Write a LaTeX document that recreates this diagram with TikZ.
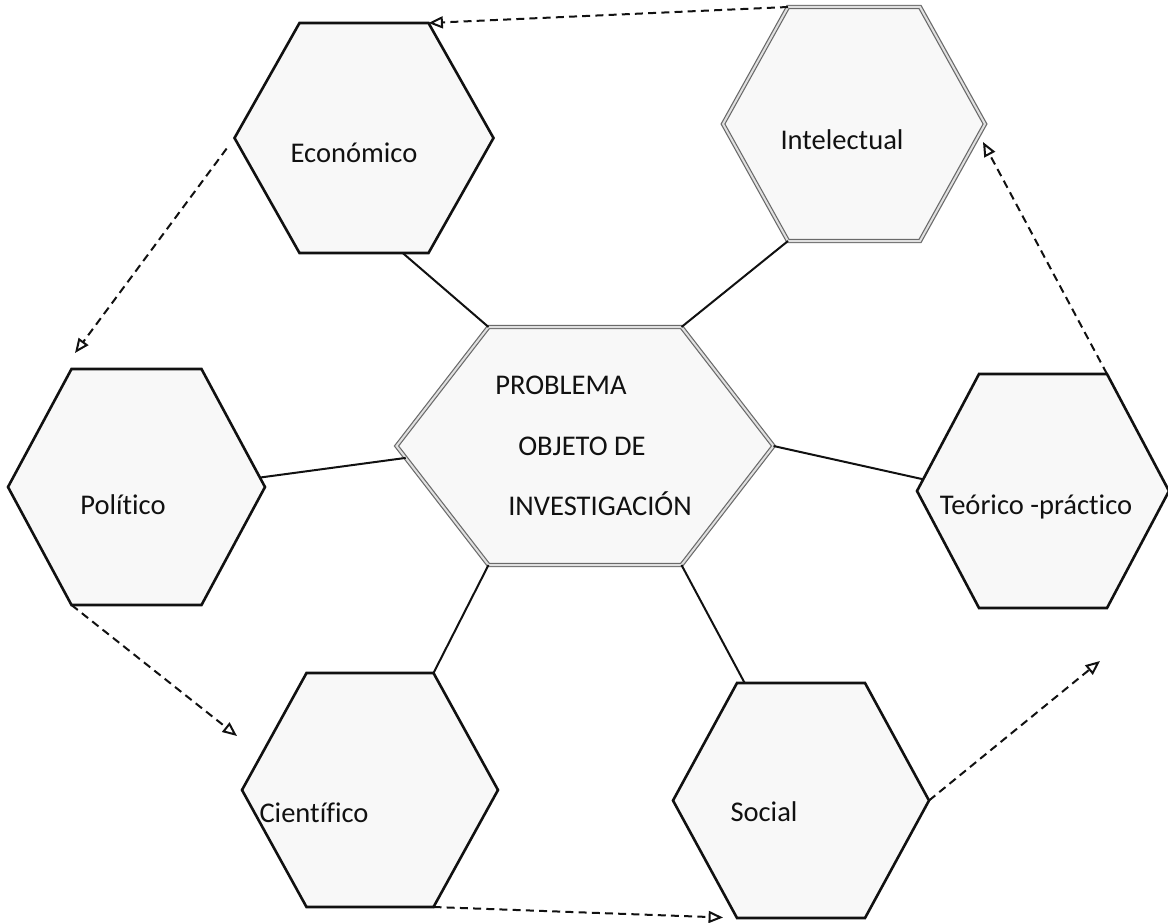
\documentclass[tikz,border=0pt]{standalone}
\usepackage{fontspec}
\setmainfont{Carlito}[Ligatures=NoCommon]
\usetikzlibrary{arrows.meta,calc}
\definecolor{tinta}{HTML}{111111}
\definecolor{relleno}{HTML}{F8F8F8}
\definecolor{borde}{HTML}{6A6A6A}
\newcommand{\rot}{\fontsize{20.3}{24}\selectfont}
\newcommand{\rotprob}{\fontsize{20.3}{43}\selectfont}
\tikzset{hexa/.style={draw=tinta,line width=0.65mm,fill=relleno},
  hexagris/.style={draw=borde,line width=0.3mm,double=black!12,double distance=0.5mm,fill=relleno},
  enlace/.style={tinta,line width=0.5mm},
  flecha/.style={tinta,line width=0.5mm,dash pattern=on 2mm off 1.3mm,
    -{Triangle[open,length=3.6mm,width=3mm]}},
  etiqueta/.style={inner sep=0,text=tinta,font=\rot}}
% hexagono: estilo, nombre, cx, cy, media anchura, media altura, medio lado superior
\newcommand{\hexagono}[7][hexa]{%
  \coordinate (#2) at (#3,#4);
  \coordinate (#2-tl) at ($(#2)+(-#7,-#6)$);
  \coordinate (#2-tr) at ($(#2)+(#7,-#6)$);
  \coordinate (#2-r) at ($(#2)+(#5,0)$);
  \coordinate (#2-br) at ($(#2)+(#7,#6)$);
  \coordinate (#2-bl) at ($(#2)+(-#7,#6)$);
  \coordinate (#2-l) at ($(#2)+(-#5,0)$);
  \draw[#1] (#2-tl) -- (#2-tr) -- (#2-r) -- (#2-br) -- (#2-bl) -- (#2-l) -- cycle;}

\begin{document}
\begin{tikzpicture}[x=0.25mm,y=-0.25mm]
\useasboundingbox (0,0) rectangle (1168,923);
\hexagono{econ}{364}{138}{129.5}{115}{64.5}
\hexagono[hexagris]{intel}{854}{124}{131}{117}{66}
\hexagono[hexagris]{prob}{585}{446}{188.5}{119}{96.5}
\hexagono{pol}{136.5}{487}{128.5}{118}{65}
\hexagono{teo}{1043}{491}{126}{117}{64}
\hexagono{cien}{370}{790}{128}{117}{63.5}
\hexagono{soc}{801}{800.5}{128}{117.5}{64}
\node[etiqueta] (econ-t) at (354,153) {Económico};
\node[etiqueta] (intel-t) at (842,140) {Intelectual};
\node[etiqueta] (pol-t) at (123,505) {Político};
\node[etiqueta] (teo-t) at (1036,507) {Teórico -práctico};
\node[etiqueta] (cien-t) at (314,813) {Científico};
\node[etiqueta] (soc-t) at (764,812) {Social};
\node[etiqueta,font=\rotprob,align=left,anchor=north west] (prob-t) at (495,376)
  {PROBLEMA\\\hspace*{5.75mm}OBJETO DE\\\hspace*{3.25mm}INVESTIGACIÓN};
% lineas al centro
\draw[enlace] ($(econ-bl)!0.8!(econ-br)$) -- (prob-tl);
\draw[enlace] (intel-bl) -- (prob-tr);
\draw[enlace] ($(pol-r)!0.08!(pol-tr)$) -- ($(prob-l)!0.1!(prob-bl)$);
\draw[enlace] (prob-r) -- ($(teo-l)!0.1!(teo-tl)$);
\draw[enlace] (prob-bl) -- (cien-tr);
\draw[enlace] (prob-br) -- ($(soc-tl)!0.06!(soc-tr)$);
% ciclo punteado
\coordinate (pol-in) at (75,353);
\coordinate (cien-in) at (237,736);
\coordinate (teo-in) at (1100,661);
\coordinate (intel-in) at (983,142);
\draw[flecha] (intel-tl) -- (econ-tr);
\draw[flecha,shorten <=3.3mm] (econ-l) -- (pol-in);
\draw[flecha] (pol-bl) -- (cien-in);
\draw[flecha,shorten >=3.5mm] (cien-br) -- (soc-bl);
\draw[flecha] (soc-r) -- (teo-in);
\draw[flecha] (teo-tr) -- (intel-in);
\end{tikzpicture}
\end{document}
